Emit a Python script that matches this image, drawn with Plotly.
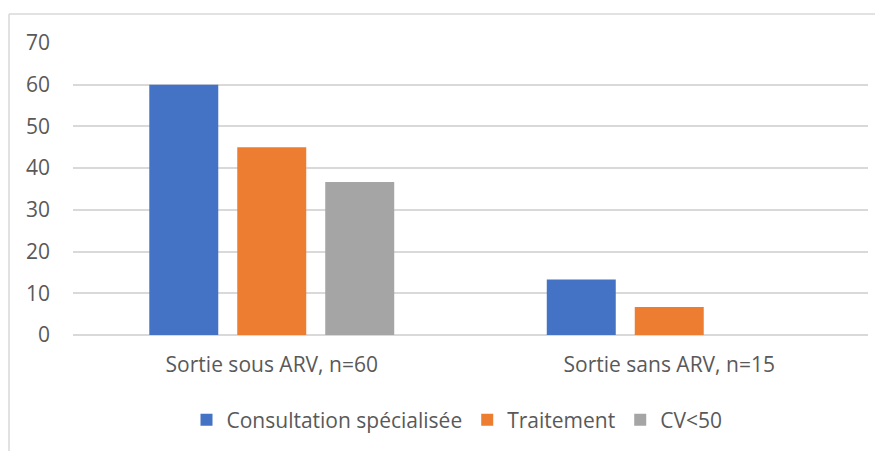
import plotly.graph_objects as go

categories = ["Sortie sous ARV, n=60", "Sortie sans ARV, n=15"]
series_names = ["Consultation spécialisée", "Traitement", "CV<50"]
consultation = [60, 13.3]
traitement = [45, 6.7]
cv50 = [36.7, 0]
y_ticks = [0, 10, 20, 30, 40, 50, 60, 70]

colors = ["#4472C4", "#ED7D31", "#A5A5A5"]
font_family = "'Open Sans', Lato, sans-serif"
text_color = "#595959"
fsize = 21

fig = go.Figure()
for name, vals, col in zip(series_names, [consultation, traitement, cv50], colors):
    fig.add_trace(go.Bar(x=categories, y=vals, name=name, marker_color=col,
                         marker_line_width=0))

# page has an 8px body margin; figure is placed at (8, 8)
OFF = 8
W, H = 883 - OFF, 451 - OFF
ml, mr, mt, mb = 73 - OFF, 15, 43 - OFF, 115
pw, ph = W - ml - mr, H - mt - mb

def px_x(p):
    return (p - OFF - ml) / pw

def px_y(p):
    return (H + OFF - mb - p) / ph

frame_color = "#d9d9d9"
fig.add_shape(type="line", xref="paper", yref="paper",
              x0=px_x(9), x1=px_x(9), y0=px_y(14), y1=px_y(460),
              line=dict(color=frame_color, width=1.5))
fig.add_shape(type="line", xref="paper", yref="paper",
              x0=px_x(9), x1=px_x(890), y0=px_y(14), y1=px_y(14),
              line=dict(color=frame_color, width=1.5))

fig.update_layout(
    width=W, height=H,
    margin=dict(l=ml, r=mr, t=mt, b=mb),
    paper_bgcolor="white", plot_bgcolor="white",
    barmode="group", bargap=0.336, bargroupgap=0.216,
    font=dict(family=font_family, color=text_color, size=fsize),
    showlegend=True,
    legend=dict(orientation="h", x=px_x(457), xanchor="center", y=px_y(420), yanchor="middle",
                font=dict(size=fsize, color=text_color), traceorder="normal"),
    xaxis=dict(showgrid=False, showline=False, zeroline=False,
               ticks="", ticklabelstandoff=15, tickfont=dict(size=fsize)),
    yaxis=dict(range=[0, 70], tickvals=y_ticks, showgrid=True, gridcolor=frame_color,
               gridwidth=1.5, zeroline=True, zerolinecolor=frame_color, zerolinewidth=1.5,
               showline=False, ticks="", ticklabelstandoff=22, tickfont=dict(size=fsize)),
)

fig.write_html("out.html")
